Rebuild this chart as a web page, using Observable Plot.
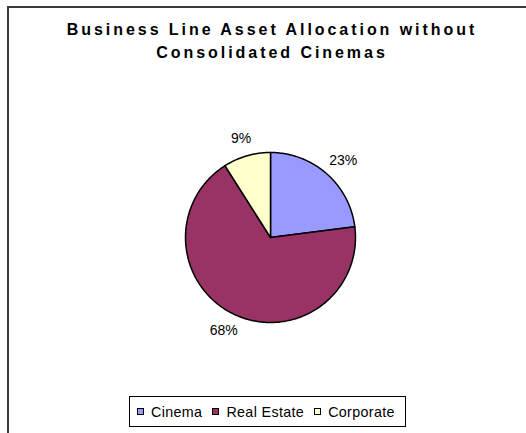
<!DOCTYPE html>
<html>
<head>
<meta charset="utf-8">
<script src="https://cdn.jsdelivr.net/npm/d3@7"></script>
<script src="https://cdn.jsdelivr.net/npm/@observablehq/plot@0.6"></script>
<style>
  html, body { margin: 0; padding: 0; background: #fff; }
  #wrap { position: relative; width: 526px; height: 433px; overflow: hidden; font-family: "Liberation Sans", Arial, sans-serif; }
  #frame { position: absolute; left: 7px; top: 6px; width: 600px; height: 600px; border-left: 2px solid #3a3a3a; border-top: 2px solid #3a3a3a; }
  #title { position: absolute; left: 9px; width: 526px; top: 18px; text-align: center; font-weight: bold; font-size: 16px; line-height: 23px; letter-spacing: 2.95px; color: #000; }
  #chart { position: absolute; left: 0; top: 0; }
  #legend { position: absolute; left: 129px; top: 396px; width: 275px; height: 29px; border: 1px solid #000; display: flex; align-items: center; font-size: 14.3px; letter-spacing: 0.35px; color: #000; background: #fff; box-sizing: content-box; }
  .item { display: flex; align-items: center; margin-left: 7px; }
  .item + .item { margin-left: 10px; }
  .sw { width: 5px; height: 5px; border: 1.5px solid #000; margin-right: 7px; }
</style>
</head>
<body>
<div id="wrap">
  <div id="frame"></div>
  <div id="title">Business Line Asset Allocation without<br>Consolidated Cinemas</div>
  <div id="chart"></div>
  <div id="legend"></div>
</div>
<script>
const categories = ["Cinema", "Real Estate", "Corporate"];
const values = [23, 68, 9];
const labels = ["23%", "68%", "9%"];
const colors = ["#9999FF", "#993366", "#FFFFCC"];

const W = 526, H = 433;
const cx = 270, cy = 237, r = 85;

const arcs = d3.pie().sort(null).value(d => d)(values);

// polygon points for each slice
const pts = [];
arcs.forEach((a, i) => {
  const cat = categories[i];
  pts.push({cat, x: cx, y: cy});
  const n = Math.max(2, Math.ceil((a.endAngle - a.startAngle) / (Math.PI / 180)));
  for (let k = 0; k <= n; k++) {
    const t = a.startAngle + (a.endAngle - a.startAngle) * k / n;
    pts.push({cat, x: cx + r * Math.sin(t), y: cy - r * Math.cos(t)});
  }
  pts.push({cat, x: cx, y: cy});
});

// label positions (outside end)
const fs = 14;
const lab = arcs.map((a, i) => {
  const m = (a.startAngle + a.endAngle) / 2;
  const w = labels[i].length * 0.62 * fs;
  const h = fs * 0.85;
  const off = 12;
  return {
    text: labels[i],
    x: cx + (r + off + w / 2) * Math.sin(m),
    y: cy - (r + off + h / 2) * Math.cos(m)
  };
});

const plot = Plot.plot({
  width: W, height: H,
  margin: 0,
  x: {domain: [0, W], range: [0, W], axis: null},
  y: {domain: [0, H], range: [0, H], axis: null},
  color: {domain: categories, range: colors},
  style: {background: "transparent", overflow: "visible"},
  marks: [
    Plot.line(pts, {x: "x", y: "y", z: "cat", fill: "cat", stroke: "#000", strokeWidth: 1.5, strokeLinejoin: "round", curve: "linear"}),
    Plot.text(lab, {x: "x", y: "y", text: "text", fontSize: fs, fill: "#000", fontFamily: "Liberation Sans, Arial, sans-serif", textAnchor: "middle", lineAnchor: "middle"})
  ]
});
document.getElementById("chart").appendChild(plot);

const leg = document.getElementById("legend");
categories.forEach((c, i) => {
  const it = document.createElement("div");
  it.className = "item";
  const sw = document.createElement("div");
  sw.className = "sw";
  sw.style.background = colors[i];
  const tx = document.createElement("span");
  tx.textContent = c;
  it.appendChild(sw); it.appendChild(tx);
  leg.appendChild(it);
});
</script>
</body>
</html>
